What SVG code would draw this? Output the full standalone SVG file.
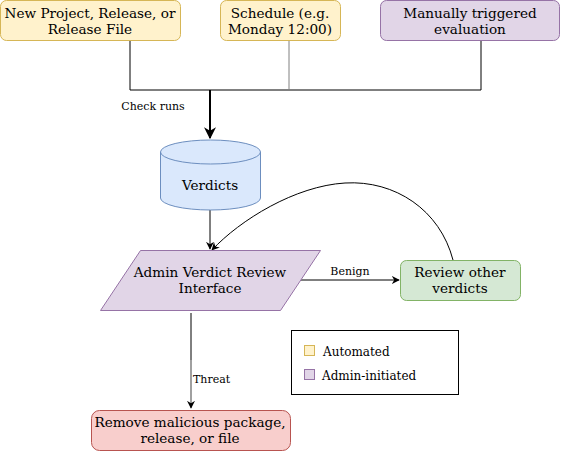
<svg xmlns="http://www.w3.org/2000/svg" width="561" height="451" viewBox="0 0 561 451">
<defs>
<style>
text{font-family:DejaVu Serif,serif;fill:#000}
.t{font-size:13.6px;text-anchor:middle}
.s{font-size:11px}
.ln{fill:none;stroke:#000;stroke-width:1}
.auto{fill:#fff2cc;stroke:#d6b656}
.admin{fill:#e1d5e7;stroke:#9673a6}
</style>
<marker id="ah" viewBox="0 0 10 10" refX="9" refY="5" markerWidth="8" markerHeight="8" markerUnits="userSpaceOnUse" orient="auto"><path d="M0,0 L10,5 L0,10 L3,5 Z" fill="#000"/></marker>
<marker id="ah2" viewBox="0 0 10 10" refX="9" refY="5" markerWidth="6" markerHeight="6" orient="auto"><path d="M0,0 L10,5 L0,10 L3,5 Z" fill="#000"/></marker>
</defs>
<g id="connectors" font-family="DejaVu Serif">
<path class="ln" d="M130,40 V90 H481 V40"/>
<path d="M289,40 V90" fill="none" stroke="#808080"/>
<path d="M210,90 V138" fill="none" stroke="#000" stroke-width="2" marker-end="url(#ah2)"/>
<text class="s" x="153" y="110" text-anchor="middle">Check runs</text>
<path class="ln" d="M210,210 V249" marker-end="url(#ah)"/>
<path class="ln" d="M298,280 H399" marker-end="url(#ah)"/>
<text class="s" x="350" y="275" text-anchor="middle">Benign</text>
<path class="ln" d="M453,260 C440,210 395,180 345,183 C295,186 240,220 212,250" marker-end="url(#ah)"/>
<path class="ln" d="M191,313 V360"/>
<path d="M191,360 V408" fill="none" stroke="#808080" stroke-width="1.5" marker-end="url(#ah)"/>
<text class="s" x="193" y="383">Threat</text>
</g>
<g id="n-new" font-family="DejaVu Serif"><rect class="auto" x="0.5" y="0.5" width="180" height="40" rx="6"/><text class="t" x="90" y="18">New Project, Release, or</text><text class="t" x="90" y="34">Release File</text></g>
<g id="n-schedule" font-family="DejaVu Serif"><rect class="auto" x="220.5" y="0.5" width="120" height="40" rx="6"/><text class="t" x="280" y="18">Schedule (e.g.</text><text class="t" x="280" y="34">Monday 12:00)</text></g>
<g id="n-manual" font-family="DejaVu Serif"><rect class="admin" x="380.5" y="0.5" width="179" height="40" rx="6"/><text class="t" x="470" y="18">Manually triggered</text><text class="t" x="470" y="34">evaluation</text></g>
<g id="n-verdicts" font-family="DejaVu Serif">
<path d="M160.5,152 A50,12 0 0 1 260.5,152 V198 A50,12 0 0 1 160.5,198 Z" fill="#dae8fc" stroke="#6c8ebf"/>
<path d="M160.5,152 A50,12 0 0 0 260.5,152" fill="none" stroke="#6c8ebf"/>
<text class="t" x="210" y="190">Verdicts</text>
</g>
<g id="n-review" font-family="DejaVu Serif"><path class="admin" d="M140.5,250.5 H320.5 L280.5,310.5 H100.5 Z"/><text class="t" x="210" y="277">Admin Verdict Review</text><text class="t" x="210" y="293">Interface</text></g>
<g id="n-other" font-family="DejaVu Serif"><rect x="400.5" y="260.5" width="120" height="40" rx="6" fill="#d5e8d4" stroke="#82b366"/><text class="t" x="460" y="277">Review other</text><text class="t" x="460" y="293">verdicts</text></g>
<g id="n-remove" font-family="DejaVu Serif"><rect x="91.5" y="410.5" width="199" height="40" rx="8" fill="#f8cecc" stroke="#b85450"/><text class="t" x="190" y="427">Remove malicious package,</text><text class="t" x="190" y="443">release, or file</text></g>
<g id="legend" font-family="DejaVu Serif">
<rect x="291.5" y="330.5" width="167" height="64" fill="#fff" stroke="#000"/>
<rect class="auto" x="304.5" y="345.5" width="10" height="10"/>
<text x="323" y="356" font-size="12">Automated</text>
<rect class="admin" x="304.5" y="369.5" width="10" height="10"/>
<text x="322" y="380" font-size="12">Admin-initiated</text>
</g>
</svg>
